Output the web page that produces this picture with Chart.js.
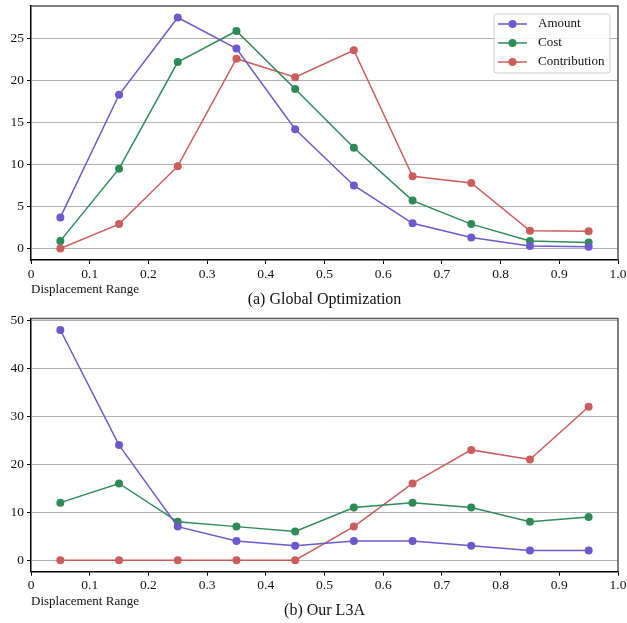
<!DOCTYPE html>
<html>
<head>
<meta charset="utf-8">
<script src="https://cdn.jsdelivr.net/npm/chart.js@4/dist/chart.umd.min.js"></script>
<style>
  html, body { margin: 0; padding: 0; background: #fff; }
  #wrap { position: relative; width: 627px; height: 623px; }
  .cv { position: absolute; left: 0; }
</style>
</head>
<body>
<div id="wrap">
  <div class="cv" style="top:0;width:627px;height:310px"><canvas id="c1"></canvas></div>
  <div class="cv" style="top:310px;width:627px;height:313px"><canvas id="c2"></canvas></div>
</div>
<script>
// ---- data ----
const xValues = [0.05, 0.15, 0.25, 0.35, 0.45, 0.55, 0.65, 0.75, 0.85, 0.95];
const seriesNames = ["Amount", "Cost", "Contribution"];

const globalAmount       = [3.7, 18.3, 27.5, 23.8, 14.2, 7.5, 3.0, 1.3, 0.3, 0.2];
const globalCost         = [0.9, 9.5, 22.2, 25.9, 19.0, 12.0, 5.7, 2.9, 0.9, 0.7];
const globalContribution = [0.0, 2.9, 9.8, 22.6, 20.4, 23.6, 8.6, 7.8, 2.1, 2.05];

const l3aAmount       = [48, 24, 7, 4, 3, 4, 4, 3, 2, 2];
const l3aCost         = [12, 16, 8, 7, 6, 11, 12, 11, 8, 9];
const l3aContribution = [0, 0, 0, 0, 0, 7, 16, 23, 21, 32];

const xTicks = [0, 0.1, 0.2, 0.3, 0.4, 0.5, 0.6, 0.7, 0.8, 0.9, 1.0];
const yTicksTop = [0, 5, 10, 15, 20, 25];
const yTicksBottom = [0, 10, 20, 30, 40, 50];

const xLabel = "Displacement Range";
const captionTop = "(a) Global Optimization";
const captionBottom = "(b) Our L3A";

// ---- styles ----
const colors = ["#6a5acd", "#2e8b57", "#cd5c5c"];
const FONT = "'Liberation Serif', 'Times New Roman', serif";

function makeDatasets(arrs) {
  return arrs.map((arr, i) => ({
    label: seriesNames[i],
    data: arr.map((v, j) => ({ x: xValues[j], y: v })),
    borderColor: colors[i],
    backgroundColor: colors[i],
    pointBackgroundColor: colors[i],
    pointBorderColor: colors[i],
    pointRadius: 4,
    pointBorderWidth: 0,
    borderWidth: 1.5,
    tension: 0,
    fill: false
  }));
}

const decorPlugin = {
  id: 'decor',
  afterDraw(chart, args, opts) {
    const ctx = chart.ctx;
    const a = chart.chartArea;
    ctx.save();
    // top and right frame
    ctx.strokeStyle = '#555';
    ctx.lineWidth = 1.5;
    ctx.beginPath();
    ctx.moveTo(a.left, a.top);
    ctx.lineTo(a.right, a.top);
    ctx.lineTo(a.right, a.bottom);
    ctx.stroke();
    // x label
    ctx.fillStyle = '#111';
    ctx.font = "13px " + FONT;
    ctx.textBaseline = 'middle';
    ctx.textAlign = 'left';
    ctx.fillText(opts.xLabel, a.left, a.bottom + opts.xLabelDy);
    // caption
    ctx.font = "16px " + FONT;
    ctx.textAlign = 'center';
    ctx.fillText(opts.caption, (a.left + a.right) / 2, a.bottom + opts.captionDy);
    // legend
    if (opts.legend) {
      const L = opts.legend;
      ctx.fillStyle = 'rgba(255,255,255,0.85)';
      ctx.strokeStyle = '#cccccc';
      ctx.lineWidth = 1;
      const r = 2.5;
      const x0 = L.x, y0 = L.y, w = L.w, h = L.h;
      ctx.beginPath();
      ctx.moveTo(x0 + r, y0);
      ctx.lineTo(x0 + w - r, y0);
      ctx.arcTo(x0 + w, y0, x0 + w, y0 + r, r);
      ctx.lineTo(x0 + w, y0 + h - r);
      ctx.arcTo(x0 + w, y0 + h, x0 + w - r, y0 + h, r);
      ctx.lineTo(x0 + r, y0 + h);
      ctx.arcTo(x0, y0 + h, x0, y0 + h - r, r);
      ctx.lineTo(x0, y0 + r);
      ctx.arcTo(x0, y0, x0 + r, y0, r);
      ctx.closePath();
      ctx.fill();
      ctx.stroke();
      chart.data.datasets.forEach((ds, i) => {
        const yy = y0 + L.firstDy + i * L.rowH;
        ctx.strokeStyle = ds.borderColor;
        ctx.lineWidth = 1.5;
        ctx.beginPath();
        ctx.moveTo(x0 + 4, yy);
        ctx.lineTo(x0 + 33, yy);
        ctx.stroke();
        ctx.fillStyle = ds.borderColor;
        ctx.beginPath();
        ctx.arc(x0 + 18.5, yy, 4, 0, Math.PI * 2);
        ctx.fill();
        ctx.fillStyle = '#111';
        ctx.font = "13px " + FONT;
        ctx.textAlign = 'left';
        ctx.textBaseline = 'middle';
        ctx.fillText(ds.label, x0 + 44, yy);
      });
    }
    ctx.restore();
  }
};

function makeChart(id, datasets, yMin, yMax, yTicks, padTop, xAxisH, caption, legend) {
  return new Chart(document.getElementById(id), {
    type: 'line',
    data: { datasets },
    plugins: [decorPlugin],
    options: {
      responsive: true,
      maintainAspectRatio: false,
      animation: false,
      events: [],
      layout: { padding: { top: padTop, right: 9, left: 0, bottom: 0 } },
      plugins: {
        legend: { display: false },
        tooltip: { enabled: false },
        decor: { xLabel: xLabel, caption: caption, xLabelDy: 29.5, captionDy: 39.5, legend: legend }
      },
      scales: {
        x: {
          type: 'linear',
          min: 0, max: 1,
          afterBuildTicks: s => { s.ticks = xTicks.map(v => ({ value: v })); },
          afterFit: s => { s.height = xAxisH; s.paddingLeft = 0; s.paddingRight = 0; },
          grid: { drawOnChartArea: false, tickLength: 4, tickColor: '#000', tickWidth: 1 },
          border: { color: '#000', width: 1.5 },
          ticks: {
            color: '#111', padding: 2, maxRotation: 0, autoSkip: false,
            font: { family: FONT, size: 13.5 },
            callback: v => v === 0 ? '0' : v.toFixed(1)
          }
        },
        y: {
          type: 'linear',
          min: yMin, max: yMax,
          afterBuildTicks: s => { s.ticks = yTicks.map(v => ({ value: v })); },
          afterFit: s => { s.width = 31; s.paddingTop = 0; s.paddingBottom = 0; },
          grid: { color: '#b0b0b0', lineWidth: 1, tickLength: 4, tickColor: '#000' },
          border: { color: '#000', width: 1.5 },
          ticks: {
            color: '#111', padding: 3,
            font: { family: FONT, size: 13.5 },
            callback: v => String(v)
          }
        }
      }
    }
  });
}

makeChart('c1', makeDatasets([globalAmount, globalCost, globalContribution]),
  -1.375, 28.875, yTicksTop, 6, 50, captionTop,
  { x: 494, y: 14, w: 116, h: 59, firstDy: 10, rowH: 19 });
makeChart('c2', makeDatasets([l3aAmount, l3aCost, l3aContribution]),
  -2.4, 50.4, yTicksBottom, 8.5, 51.3, captionBottom, null);
</script>
</body>
</html>
